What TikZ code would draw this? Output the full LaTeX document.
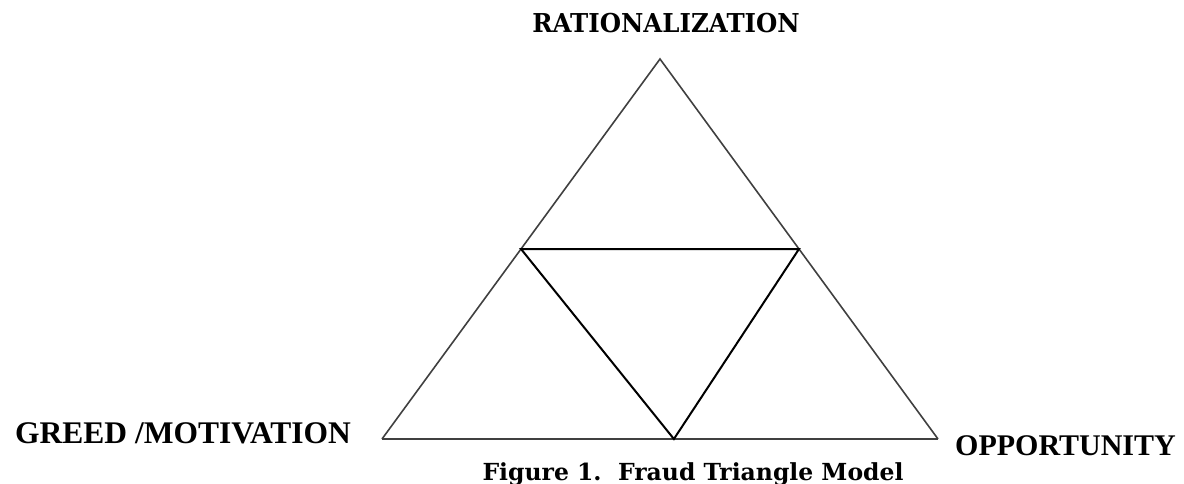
\documentclass[tikz,border=0pt]{standalone}
\usepackage{fontspec}
\setmainfont{Liberation Serif}
\newfontfamily\slabfont{DejaVu Serif}
\usetikzlibrary{calc}

\begin{document}
\begin{tikzpicture}[
  x=1pt, y=-1pt,
  side/.style={draw=black!75, line width=1.6pt},
  base/.style={draw=black!75, line width=2.4pt},
  inner/.style={draw=black, line width=2pt, line join=miter},
  corner/.style={font=\fontsize{31.5}{35}\selectfont\bfseries, inner sep=0pt},
  toplbl/.style={font=\slabfont\addfontfeatures{FakeStretch=0.94}\fontsize{26}{30}\selectfont\bfseries, inner sep=0pt},
  caption/.style={font=\slabfont\fontsize{23.5}{28}\selectfont\bfseries, inner sep=0pt}
]
\useasboundingbox (0,0) rectangle (1184,484);
% Outer triangle
\coordinate (apex) at (660,59);
\coordinate (bl) at (382,439);
\coordinate (br) at (938,439);
% Inner triangle, corners on the sides
\coordinate (il) at ($(bl)!0.5!(apex)$);
\coordinate (ir) at ($(br)!0.5!(apex)$);
\coordinate (ib) at ($(bl)!0.525!(br)$);
\draw[side] (bl) -- (apex) -- (br);
\draw[base] (bl) -- (br);
\draw[inner] (il) -- (ir) -- (ib) -- cycle;
% Labels
\node[toplbl, anchor=base] (rat) at (666,33) {RATIONALIZATION};
\node[corner, anchor=base west] (greed) at (15,443) {GREED /MOTIVATION};
\node[corner, font=\fontsize{30}{34}\selectfont\bfseries, anchor=base west] (opp) at (955,455) {OPPORTUNITY};
\node[caption, anchor=base] (fig) at (693,480) {Figure 1.\ \ Fraud Triangle Model};
\end{tikzpicture}
\end{document}
